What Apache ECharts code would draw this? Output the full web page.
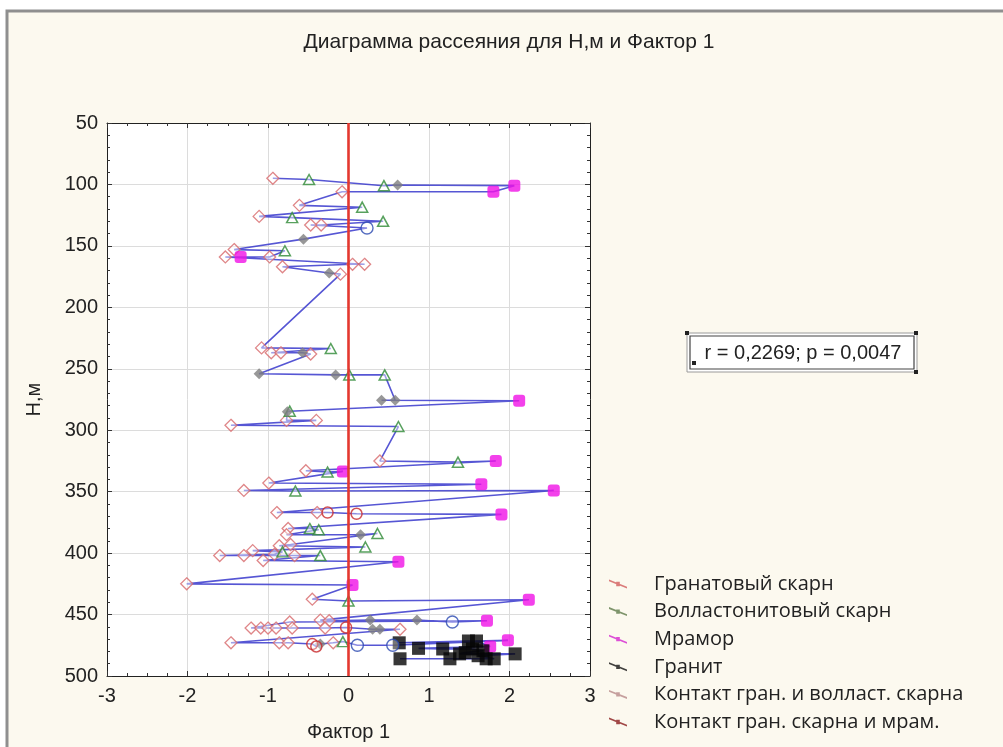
<!DOCTYPE html>
<html>
<head>
<meta charset="utf-8">
<script src="https://cdn.jsdelivr.net/npm/echarts@6/dist/echarts.min.js"></script>
<style>
  html, body { margin: 0; padding: 0; background: #ffffff; }
  #chart { width: 1003px; height: 747px; }
</style>
</head>
<body>
<div id="chart"></div>
<script>
// Rock type codes: 0 garnet skarn, 1 wollastonite skarn, 2 marble, 3 granite,
// 4 contact garnet/wollastonite skarn, 5 contact garnet skarn/marble, 6 other
const rockNames = [
  'Гранатовый скарн',
  'Волластонитовый скарн',
  'Мрамор',
  'Гранит',
  'Контакт гран. и волласт. скарна',
  'Контакт гран. скарна и мрам.'
];

// Samples in drilling order: depth H (m), factor score, rock type code
const depthH = [
  95, 96, 101, 100.5, 101, 106, 106, 117, 118.5, 126,
  127, 130, 133, 133, 135.5, 144.5, 153, 154, 159, 159,
  159, 165, 165, 167, 172, 173, 233, 233.5, 237, 237,
  237, 238, 254, 255, 255, 255, 275.6, 275.6, 276, 284.5,
  285, 292, 292, 296, 297, 325, 326, 325, 333, 334,
  333.5, 343, 344, 349, 349.5, 349, 367, 367, 367, 368,
  368.5, 380, 380, 381, 385, 385, 384, 393, 394, 395,
  398, 399, 401, 402, 402, 402, 402, 406, 407, 425,
  426, 437.5, 439, 438, 454.5, 455, 454.5, 454.5, 456, 455,
  456, 461, 461, 461, 461, 461, 461, 460.5, 462, 462,
  462, 473, 473, 473, 474, 476, 474, 473, 472, 475,
  475, 471, 473, 471.5, 471.5, 476, 477.5, 478, 478, 479.5,
  481, 482, 482, 483.5, 486, 486, 486, 486
];
const factor1 = [
  -0.94, -0.49, 0.44, 0.61, 2.06, 1.80, -0.08, -0.61, 0.17, -1.11,
  -0.70, 0.43, -0.34, -0.47, 0.23, -0.56, -1.42, -0.79, -0.98, -1.34,
  -1.53, 0.20, 0.05, -0.82, -0.24, -0.10, -1.08, -0.22, -0.96, -0.84,
  -0.57, -0.47, -1.11, -0.16, 0.01, 0.45, 0.58, 0.41, 2.12, -0.73,
  -0.76, -0.77, -0.40, -1.46, 0.62, 0.39, 1.36, 1.83, -0.53, -0.26,
  -0.07, -0.99, 1.65, -1.30, -0.66, 2.55, -0.89, -0.39, -0.26, 0.10,
  1.90, -0.75, -0.48, -0.37, -0.77, 0.15, 0.36, -0.72, -0.86, 0.21,
  -1.19, -0.82, -0.92, -1.60, -1.30, -0.67, -0.35, -1.06, 0.62, -2.01,
  0.05, -0.45, 0.00, 2.24, -0.35, -0.24, 0.27, 0.85, 1.29, 1.72,
  -0.73, -1.21, -1.09, -1.00, -0.90, -0.70, -0.29, -0.03, 0.30, 0.39,
  0.64, -1.46, -0.86, -0.75, -0.45, -0.40, -0.35, -0.19, -0.07, 0.11,
  0.55, 1.98, 0.63, 1.49, 1.59, 1.76, 0.87, 1.17, 1.54, 1.67,
  1.45, 1.38, 2.07, 1.61, 1.81, 1.71, 1.26, 0.64
];
const rockType = [
  0, 1, 1, 4, 2, 2, 0, 0, 1, 0,
  1, 1, 0, 0, 6, 4, 0, 1, 0, 2,
  0, 0, 0, 0, 4, 0, 0, 1, 0, 0,
  4, 0, 4, 4, 1, 1, 4, 4, 2, 1,
  4, 0, 0, 0, 1, 0, 1, 2, 0, 1,
  2, 0, 2, 0, 1, 2, 0, 0, 5, 5,
  2, 0, 1, 1, 0, 4, 1, 0, 0, 1,
  0, 1, 0, 0, 0, 0, 1, 0, 2, 0,
  2, 0, 1, 2, 0, 0, 4, 4, 6, 2,
  0, 0, 0, 0, 0, 0, 0, 5, 4, 4,
  0, 0, 0, 0, 5, 5, 4, 0, 1, 6,
  6, 2, 3, 3, 3, 2, 3, 3, 3, 3,
  3, 3, 3, 3, 3, 3, 3, 3
];

// Correlation annotation
const corrText = 'r = 0,2269; p = 0,0047';

// Marker look for each rock type
const markerStyle = [
  { symbol: 'diamond', size: [12, 12], color: 'rgba(255,255,255,0.55)', border: '#d7686a', width: 1.3 },
  { symbol: 'triangle', size: [11, 10], color: 'rgba(255,255,255,0.55)', border: '#2e8a36', width: 1.5 },
  { symbol: 'roundRect', size: [12, 12], color: '#f012e6', border: '#f012e6', width: 0 },
  { symbol: 'rect', size: [13, 13], color: '#050505', border: '#050505', width: 0 },
  { symbol: 'diamond', size: [11, 11], color: '#7e7e7e', border: '#7e7e7e', width: 0 },
  { symbol: 'circle', size: [11, 11], color: 'rgba(255,255,255,0.4)', border: '#c8282a', width: 1.5 },
  { symbol: 'circle', size: [12, 12], color: 'rgba(255,255,255,0.4)', border: '#2a48b0', width: 1.4 }
];
const legendIconColors = ['#d25c5c', '#5e7a4a', '#d424d0', '#111111', '#b88a8a', '#8a1c1c'];
const legendIcon = 'path://M0,0 L20,8 L20,10 L0,2 Z M8,2.6 L12,2.6 L12,7.4 L8,7.4 Z';

const seq = depthH.map((d, i) => [factor1[i], d]);

const scatterSeries = markerStyle.map((m, t) => ({
  name: t < rockNames.length ? rockNames[t] : 'Прочие',
  type: 'scatter',
  z: 3,
  symbol: m.symbol,
  symbolSize: m.size,
  itemStyle: { color: m.color, borderColor: m.border, borderWidth: m.width },
  data: seq.filter((p, i) => rockType[i] === t)
}));

const font = 'Liberation Sans';
const tickFont = { fontFamily: font, fontSize: 20, color: '#222' };

const chart = echarts.init(document.getElementById('chart'), null, { renderer: 'canvas' });
chart.setOption({
  animation: false,
  backgroundColor: '#ffffff',
  grid: {
    left: 107, top: 123, right: 413, bottom: 70,
    show: true, backgroundColor: '#ffffff', borderWidth: 0
  },
  xAxis: [
    {
      type: 'value', min: -3, max: 3, interval: 1,
      name: 'Фактор 1', nameLocation: 'middle', nameGap: 46,
      nameTextStyle: tickFont,
      axisLine: { show: true, onZero: false, lineStyle: { color: '#222', width: 1 } },
      axisTick: { show: true, inside: true, length: 5, lineStyle: { color: '#333' } },
      minorTick: { show: true, splitNumber: 4, length: 3, lineStyle: { color: '#333' } },
      axisLabel: Object.assign({ margin: 10 }, tickFont),
      splitLine: { show: true, lineStyle: { color: '#dcdcdc', width: 1 } }
    },
    {
      type: 'value', min: -3, max: 3, interval: 1, position: 'top',
      axisLine: { show: true, onZero: false, lineStyle: { color: '#222', width: 1 } },
      axisTick: { show: true, inside: true, length: 5, lineStyle: { color: '#333' } },
      minorTick: { show: true, splitNumber: 4, length: 3, lineStyle: { color: '#333' } },
      axisLabel: { show: false },
      splitLine: { show: false }
    }
  ],
  yAxis: [
    {
      type: 'value', min: 50, max: 500, interval: 50, inverse: true,
      name: 'H,м', nameLocation: 'middle', nameGap: 63, nameRotate: 90,
      nameTextStyle: tickFont,
      axisLine: { show: true, onZero: false, lineStyle: { color: '#222', width: 1 } },
      axisTick: { show: true, inside: true, length: 5, lineStyle: { color: '#333' } },
      minorTick: { show: true, splitNumber: 5, length: 3, lineStyle: { color: '#333' } },
      axisLabel: Object.assign({ margin: 9 }, tickFont),
      splitLine: { show: true, lineStyle: { color: '#dcdcdc', width: 1 } }
    },
    {
      type: 'value', min: 50, max: 500, interval: 50, inverse: true, position: 'right',
      axisLine: { show: true, onZero: false, lineStyle: { color: '#222', width: 1 } },
      axisTick: { show: true, inside: true, length: 5, lineStyle: { color: '#333' } },
      minorTick: { show: true, splitNumber: 5, length: 3, lineStyle: { color: '#333' } },
      axisLabel: { show: false },
      splitLine: { show: false }
    }
  ],
  legend: {
    orient: 'vertical',
    left: 604, top: 569,
    itemWidth: 18, itemHeight: 9, itemGap: 7.6,
    icon: legendIcon,
    textStyle: { fontFamily: 'Open Sans', fontSize: 20, color: '#222', lineHeight: 20, padding: [0, 0, 0, 22] },
    data: rockNames.map((n, i) => ({
      name: n,
      icon: legendIcon,
      itemStyle: { color: legendIconColors[i], borderWidth: 0 }
    }))
  },
  series: [
    {
      name: 'profile',
      type: 'line',
      z: 2,
      showSymbol: false,
      symbol: 'none',
      lineStyle: { color: '#3838cc', width: 1.6, opacity: 0.85 },
      data: seq,
      markLine: {
        silent: true,
        symbol: 'none',
        label: { show: false },
        lineStyle: { color: '#e4382f', width: 2.6, type: 'solid' },
        data: [{ xAxis: 0 }]
      }
    }
  ].concat(scatterSeries),
  graphic: [
    {
      type: 'rect', z: -10, silent: true,
      shape: { x: 7, y: 11, width: 1010, height: 750 },
      style: { fill: '#fcf9ef', stroke: '#8f8f8f', lineWidth: 3 }
    },
    {
      type: 'text', silent: true,
      style: {
        x: 509, y: 42, text: 'Диаграмма рассеяния для H,м и Фактор 1',
        textAlign: 'center', textVerticalAlign: 'middle',
        fontFamily: font, fontSize: 21, fill: '#222'
      }
    },
    {
      type: 'group', silent: true,
      children: [
        { type: 'rect', shape: { x: 687, y: 333, width: 230, height: 39 },
          style: { fill: '#ffffff', stroke: '#9a9a9a', lineWidth: 1 } },
        { type: 'rect', shape: { x: 690, y: 336, width: 224, height: 33 },
          style: { fill: '#ffffff', stroke: '#444', lineWidth: 1.2 } },
        { type: 'rect', shape: { x: 685, y: 331, width: 4, height: 4 }, style: { fill: '#222' } },
        { type: 'rect', shape: { x: 914, y: 331, width: 4, height: 4 }, style: { fill: '#222' } },
        { type: 'rect', shape: { x: 914, y: 370, width: 4, height: 4 }, style: { fill: '#222' } },
        { type: 'rect', shape: { x: 692, y: 361, width: 4, height: 4 }, style: { fill: '#222' } },
        { type: 'text', style: {
            x: 803, y: 353, text: corrText, textAlign: 'center', textVerticalAlign: 'middle',
            fontFamily: font, fontSize: 20, fill: '#222' } }
      ]
    }
  ]
});
</script>
</body>
</html>
